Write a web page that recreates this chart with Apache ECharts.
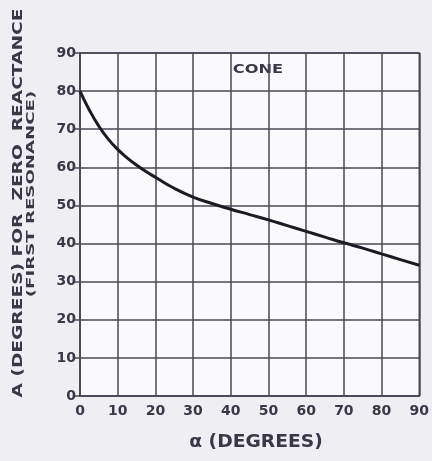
<!DOCTYPE html>
<html>
<head>
<meta charset="utf-8">
<script src="https://cdn.jsdelivr.net/npm/echarts@6/dist/echarts.min.js"></script>
<style>
  html, body { margin: 0; padding: 0; background: #eeeef3; }
  #chart { width: 432px; height: 461px; }
</style>
</head>
<body>
<div id="chart"></div>
<script>
// Cone: A (degrees) for zero reactance, first resonance, against cone angle alpha
var alphaDeg = [0, 2.5, 5, 7.5, 10, 12.5, 15, 17.5, 20, 25, 30, 35, 40, 45, 50, 55, 60, 65, 70, 75, 80, 85, 90];
var aDeg = [80, 75.0, 70.8, 67.4, 64.7, 62.5, 60.6, 58.9, 57.4, 54.5, 52.2, 50.5, 49.0, 47.6, 46.2, 44.7, 43.2, 41.7, 40.2, 38.8, 37.3, 35.8, 34.3];
var xTicks = [0, 10, 20, 30, 40, 50, 60, 70, 80, 90];
var yTicks = [0, 10, 20, 30, 40, 50, 60, 70, 80, 90];

var ink = '#3a3846';
var gridInk = '#4a4954';
var font = '"DejaVu Sans", sans-serif';

var chart = echarts.init(document.getElementById('chart'));
chart.setOption({
  backgroundColor: '#eeeef3',
  animation: false,
  grid: { left: 80, right: 9, top: 53, bottom: 65, show: true, backgroundColor: '#fafafc', borderColor: gridInk, borderWidth: 1.5 },
  xAxis: {
    type: 'value', min: xTicks[0], max: xTicks[xTicks.length - 1], interval: 10,
    axisLine: { show: true, lineStyle: { color: gridInk, width: 1.5 } },
    axisTick: { show: false },
    splitLine: { show: true, lineStyle: { color: gridInk, width: 1.5 } },
    axisLabel: { color: ink, fontFamily: font, fontWeight: 'bold', fontSize: 14, margin: 8 }
  },
  yAxis: {
    type: 'value', min: yTicks[0], max: yTicks[yTicks.length - 1], interval: 10,
    axisLine: { show: true, lineStyle: { color: gridInk, width: 1.5 } },
    axisTick: { show: true, length: 5, lineStyle: { color: gridInk, width: 1.5 } },
    splitLine: { show: true, lineStyle: { color: gridInk, width: 1.5 } },
    axisLabel: { color: ink, fontFamily: font, fontWeight: 'bold', fontSize: 14, margin: 4 }
  },
  graphic: [
    // curve label inside the grid
    { type: 'text', x: 258, y: 70, scaleX: 1.25,
      style: { text: 'CONE', fill: ink, font: 'bold 13px ' + font, align: 'center', verticalAlign: 'middle' } },
    // x axis title
    { type: 'text', x: 256, y: 443, scaleX: 1.1,
      style: { text: 'α (DEGREES)', fill: ink, font: 'bold 17px ' + font, align: 'center', verticalAlign: 'middle' } },
    // y axis title, two lines reading upward
    { type: 'text', x: 18, y: 203, rotation: Math.PI / 2, scaleX: 1.33,
      style: { text: 'A (DEGREES) FOR  ZERO  REACTANCE', fill: ink, font: 'bold 14px ' + font, align: 'center', verticalAlign: 'middle' } },
    { type: 'text', x: 31, y: 194, rotation: Math.PI / 2, scaleX: 1.65,
      style: { text: '(FIRST RESONANCE)', fill: ink, font: 'bold 11px ' + font, align: 'center', verticalAlign: 'middle' } }
  ],
  series: [{
    type: 'line', smooth: 0.5, showSymbol: false,
    data: alphaDeg.map(function (a, i) { return [a, aDeg[i]]; }),
    lineStyle: { color: '#1c1b24', width: 3 }
  }]
});
</script>
</body>
</html>
